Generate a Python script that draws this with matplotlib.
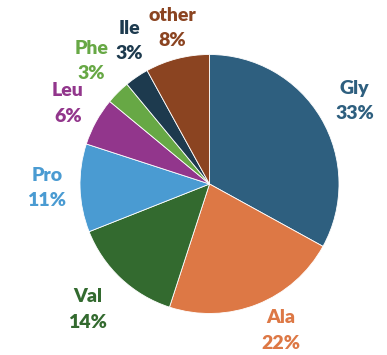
import matplotlib.pyplot as plt

# amino acid composition
names = ['Gly', 'Ala', 'Val', 'Pro', 'Leu', 'Phe', 'Ile', 'other']
pcts = [33, 22, 14, 11, 6, 3, 3, 8]
colors = ['#2e5f7f', '#dd7845', '#336a2f', '#4a9bd2', '#92368c',
          '#67a845', '#1d3a4e', '#8b4421']

plt.rcParams['font.family'] = ['Lato', 'DejaVu Sans']

fig = plt.figure(figsize=(3.87, 3.55), dpi=100)
ax = fig.add_axes([80 / 387, 41.5 / 355, 259 / 387, 259 / 355])

wedges, _ = ax.pie(pcts, colors=colors, startangle=90, counterclock=False,
                   wedgeprops=dict(linewidth=0.6, edgecolor='white'))

# label spots (axes data units), hand placed like the original layout
spots = [(1.12, 0.64), (0.55, -1.13), (-0.94, -0.97), (-1.255, -0.03),
         (-1.093, 0.62), (-0.91, 0.95), (-0.62, 1.105), (-0.29, 1.205)]
for n, p, c, (x, y) in zip(names, pcts, colors, spots):
    ax.text(x, y, f'{n}\n{p}%', color=c, ha='center', va='center',
            fontsize=14, fontweight='heavy', linespacing=1.62)

ax.set_xlim(-1, 1)
ax.set_ylim(-1, 1)

fig.savefig('out.png', dpi=100)
